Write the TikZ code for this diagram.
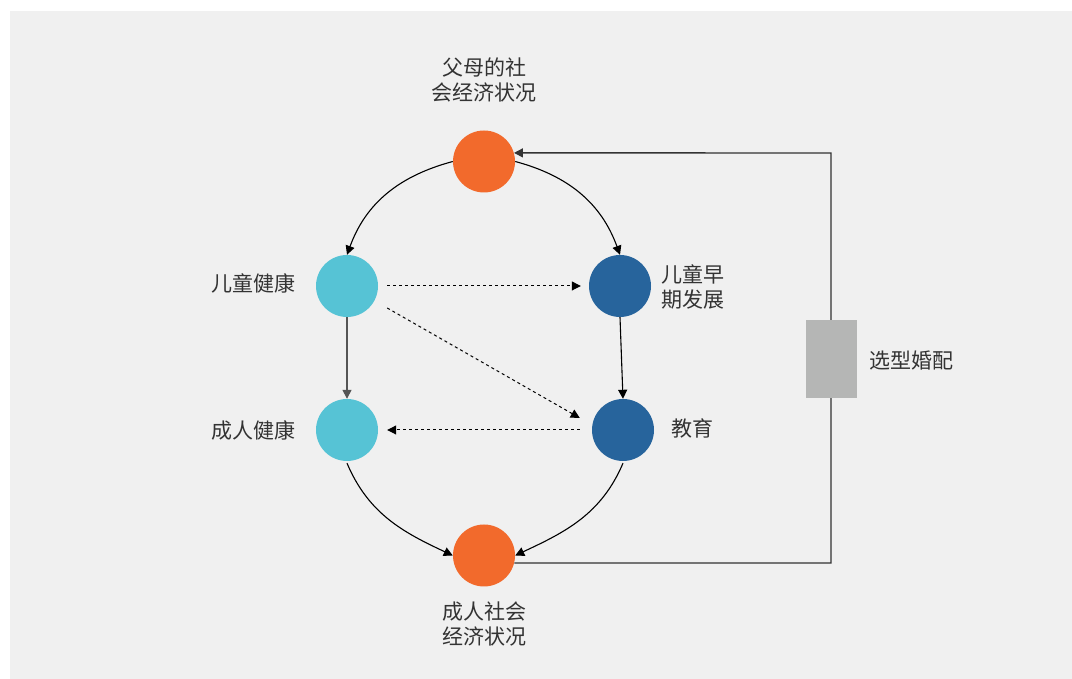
\documentclass[tikz,border=0pt]{standalone}
\usepackage{fontspec}
\setmainfont{Noto Sans CJK SC}
\usetikzlibrary{arrows.meta}
\definecolor{bgc}{HTML}{F0F0F0}
\definecolor{orng}{HTML}{F26A2C}
\definecolor{cyn}{HTML}{56C3D5}
\definecolor{blu}{HTML}{27649C}
\definecolor{boxc}{HTML}{B5B6B5}
\definecolor{txt}{HTML}{333333}
\definecolor{vline}{HTML}{555555}
\begin{document}
\begin{tikzpicture}[x=1pt,y=1pt,
  dot/.style={circle,minimum size=62pt,inner sep=0pt},
  lbl/.style={font=\fontsize{21}{25}\selectfont,text=txt,inner sep=0pt},
  arr/.style={-{Triangle[length=9pt,width=9pt]},line width=1.1pt,draw=black},
  dsh/.style={arr,dash pattern=on 3pt off 3pt,line width=1pt},
  fb/.style={line width=1.4pt,draw=txt},
]
\useasboundingbox (0,0) rectangle (1072,679);
\fill[bgc] (10,0) rectangle (1072,668);

% nodes
\node[dot,fill=orng] (top) at (484,517.5) {};
\node[dot,fill=cyn] (ch) at (347,393) {};
\node[dot,fill=blu] (cd) at (620,393) {};
\node[dot,fill=cyn] (ah) at (347,249) {};
\node[dot,fill=blu] (ed) at (623,249) {};
\node[dot,fill=orng] (bot) at (484,123.5) {};

% feedback loop
\coordinate (c1) at (831,116);
\coordinate (c2) at (831,526);
\draw[fb,-{Triangle[length=9pt,width=9pt]}] (bot.-14) -- (c1) -- (c2) -- (top.16);
\node[fill=boxc,minimum width=51pt,minimum height=78pt,inner sep=0pt] (box) at (831,320) {};

% labels
\node[lbl,align=center] (ltop) at (484,599) {父母的社\\会经济状况};
\node[lbl] (lch) at (253.5,396) {儿童健康};
\node[lbl,align=left,anchor=west] (lcd) at (661,392) {儿童早\\期发展};
\node[lbl] (lah) at (253.5,249) {成人健康};
\node[lbl,anchor=west] (led) at (671,251) {教育};
\node[lbl,anchor=west] (lbox) at (869,318.5) {选型婚配};
\node[lbl,align=center] (lbot) at (484,55) {成人社会\\经济状况};

% connectors
\draw[arr] (top.west) to[out=195,in=70] (ch.north);
\draw[arr] (top.east) to[out=-15,in=110] (cd.north);
\draw[arr,draw=vline,line width=1.5pt] (ch.south) -- (ah.north);
\draw[arr] (cd.south) -- (ed.north);
\draw[arr] ([yshift=-2pt]ah.south) to[out=-67,in=155] (bot.west);
\draw[arr] ([yshift=-2pt]ed.south) to[out=-113,in=25] (bot.east);
\draw[dsh] ([xshift=9pt]ch.east) -- ([xshift=-8pt]cd.west);
\draw[dsh] ([shift={(9pt,-22pt)}]ch.east) -- ([shift={(-12pt,12pt)}]ed.west);
\draw[dsh] ([xshift=-12pt]ed.west) -- ([xshift=9pt]ah.east);
\end{tikzpicture}
\end{document}
